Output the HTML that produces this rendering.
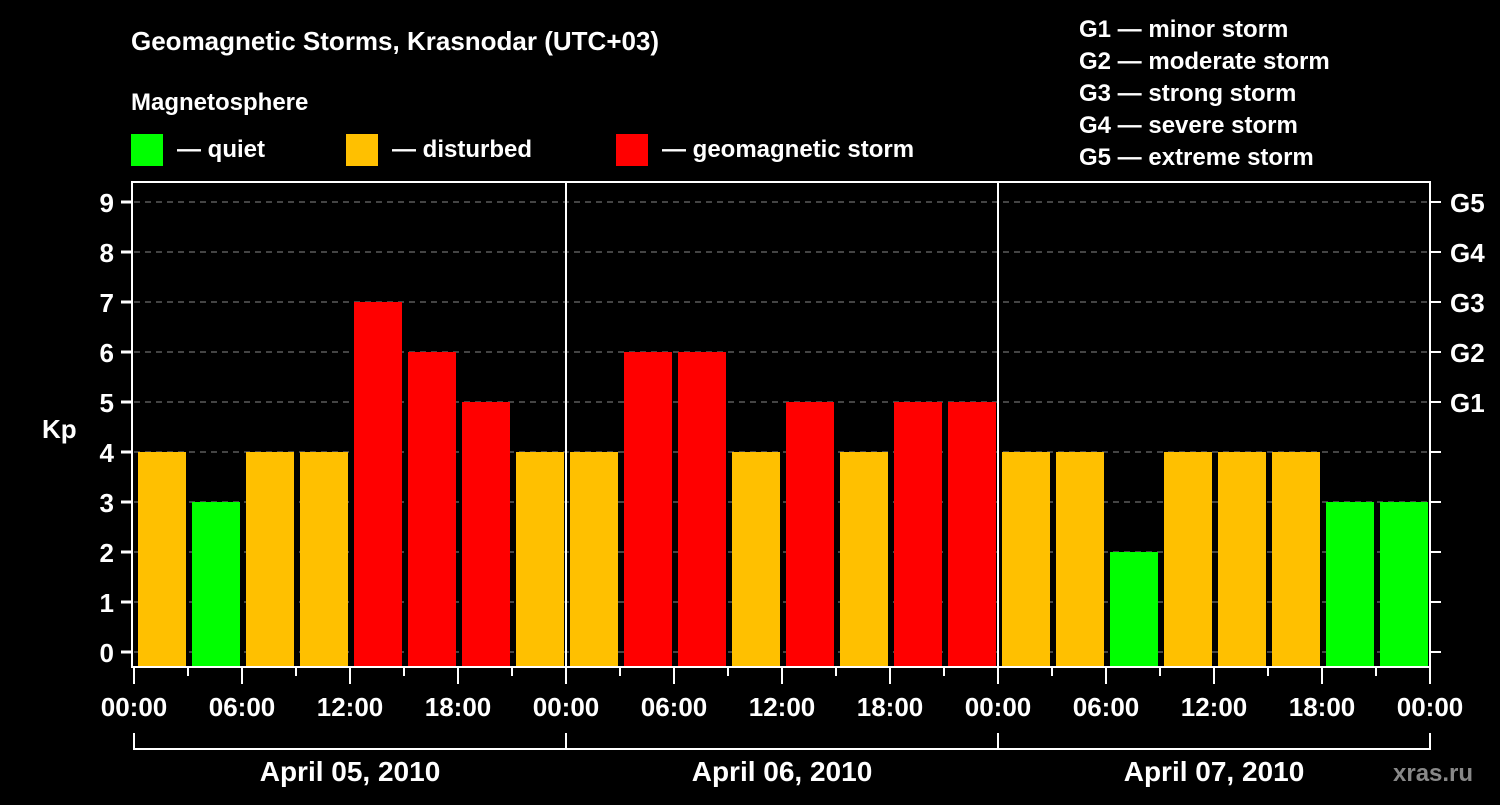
<!DOCTYPE html>
<html><head><meta charset="utf-8"><style>
body{margin:0;background:#000;width:1500px;height:800px;overflow:hidden}
svg text{font-family:"Liberation Sans",Arial,sans-serif;font-weight:bold;fill:#fff}
</style></head><body>
<svg id="c" width="1500" height="800" xmlns="http://www.w3.org/2000/svg">
<text x="131" y="50" font-size="26">Geomagnetic Storms, Krasnodar (UTC+03)</text>
<text x="131" y="110" font-size="24">Magnetosphere</text>
<rect x="131" y="134" width="32" height="32" fill="#00ff00"/>
<text x="177" y="157" font-size="24">— quiet</text>
<rect x="346" y="134" width="32" height="32" fill="#ffc000"/>
<text x="392" y="157" font-size="24">— disturbed</text>
<rect x="616" y="134" width="32" height="32" fill="#ff0000"/>
<text x="662" y="157" font-size="24">— geomagnetic storm</text>
<g font-size="24">
<text x="1079" y="37">G1 — minor storm</text>
<text x="1079" y="69">G2 — moderate storm</text>
<text x="1079" y="101">G3 — strong storm</text>
<text x="1079" y="133">G4 — severe storm</text>
<text x="1079" y="165">G5 — extreme storm</text>
</g>
<text x="42" y="438" font-size="26">Kp</text>
<text x="1393" y="781" font-size="24" fill="#888" style="fill:#888">xras.ru</text>
<g id="plot"></g>
</svg>
<script>
const kpValues=[4,3,4,4,7,6,5,4,4,6,6,4,5,4,5,5,4,4,2,4,4,4,3,3];
const yTicks=[0,1,2,3,4,5,6,7,8,9];
const gLabels=["G1","G2","G3","G4","G5"];
const gLevels=[5,6,7,8,9];
const hourLabels=["00:00","06:00","12:00","18:00","00:00","06:00","12:00","18:00","00:00","06:00","12:00","18:00","00:00"];
const dayLabels=["April 05, 2010","April 06, 2010","April 07, 2010"];
const NS="http://www.w3.org/2000/svg";
const X0=134,X1=1430,TOP=182,BOT=667;
const xH=h=>X0+(X1-X0)*h/72;
const yV=v=>652-50*v;
const g=document.getElementById('plot');
function mk(t,a,p){const e=document.createElementNS(NS,t);for(const k in a)e.setAttribute(k,a[k]);(p||g).appendChild(e);return e;}
yTicks.forEach(v=>{
 const l=mk('line',{x1:X0,x2:X1,y1:yV(v),y2:yV(v),stroke:'#888','stroke-dasharray':'6,5','stroke-width':1});
 
 
 const tl=mk('line',{x1:121,x2:X0-3,y1:yV(v),y2:yV(v),stroke:'#fff','stroke-width':3});
 
 
 const tr=mk('line',{x1:X1,x2:1441,y1:yV(v),y2:yV(v),stroke:'#fff','stroke-width':2});
 
 
 const t=mk('text',{x:114,y:yV(v)+10,'font-size':26,'text-anchor':'end'});t.textContent=v;
 
 
});
gLabels.forEach((s,i)=>{
 const t=mk('text',{x:1450,y:yV(gLevels[i])+10,'font-size':26});t.textContent=s;
 
 
});
const col=v=>v>=5?'#ff0000':v>=4?'#ffc000':'#00ff00';
kpValues.forEach((v,i)=>{
 const x=xH(i*3)+4,w=xH(3)-X0-6;
 const r=mk('rect',{x:x,y:yV(v),width:w,height:BOT-yV(v),fill:col(v)});
 
 
});
const fr=mk('rect',{x:X0-2,y:TOP,width:X1-X0+2,height:BOT-TOP,fill:'none',stroke:'#fff','stroke-width':2});


[24,48].forEach(h=>{const l=mk('line',{x1:xH(h),x2:xH(h),y1:TOP,y2:BOT,stroke:'#fff','stroke-width':2});
 
 });
for(let h=0;h<=72;h+=3){
 const maj=h%6===0;
 const l=mk('line',{x1:xH(h),x2:xH(h),y1:BOT,y2:BOT+(maj?17:9),stroke:'#fff','stroke-width':2});
 
 
}
hourLabels.forEach((s,i)=>{
 const t=mk('text',{x:xH(i*6),y:716,'font-size':26,'text-anchor':'middle'});t.textContent=s;
 
 
});
const br=mk('path',{d:`M${X0},733V749H${X1}V733`+[24,48].map(h=>`M${xH(h)},733V749`).join(''),stroke:'#fff','stroke-width':2,fill:'none'});


dayLabels.forEach((s,i)=>{
 const t=mk('text',{x:xH(i*24+12),y:781,'font-size':28,'text-anchor':'middle'});t.textContent=s;
 
 
});
</script>
</body></html>
